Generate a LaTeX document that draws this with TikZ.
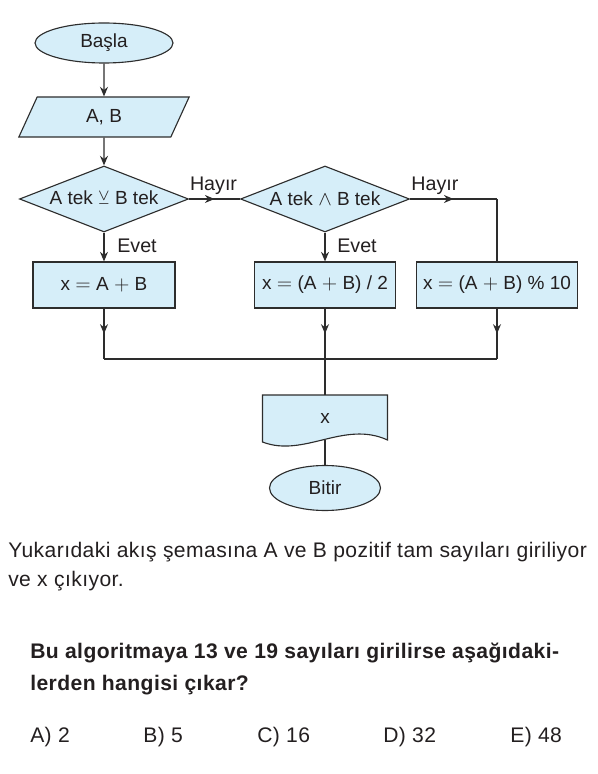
\documentclass[tikz,border=0pt]{standalone}
\usepackage{amssymb}
\usepackage{fontspec}
\setmainfont{Liberation Sans}
\newfontfamily\questfont[LetterSpace=2.0]{Liberation Sans}
\usetikzlibrary{shapes.geometric,arrows.meta,decorations.markings}
\definecolor{flowfill}{RGB}{214,238,249}
\definecolor{flowline}{RGB}{45,45,45}
\definecolor{inktext}{RGB}{35,31,32}

\begin{document}
\begin{tikzpicture}[
  every node/.style={text=inktext},
  flow/.style={draw=flowline,fill=flowfill,line width=0.8pt,font=\fontsize{13.5}{16}\selectfont},
  terminal/.style={flow,ellipse,inner sep=0pt},
  io/.style={flow,trapezium,trapezium left angle=76,trapezium right angle=104,trapezium stretches=true,minimum width=4.275cm,minimum height=1.000cm},
  decision/.style={flow,diamond,aspect=2.6,inner sep=0pt,minimum width=4.225cm,minimum height=1.650cm},
  process/.style={flow,rectangle,minimum height=1.150cm},
  link/.style={draw=flowline,line width=0.8pt},
  arrowline/.style={link,-{Stealth[length=2.4mm,width=2.0mm]}},
  midtip/.style={link,decoration={markings,mark=at position 0.5 with {\arrow{Stealth[length=2.4mm,width=2.0mm]}}},postaction={decorate}},
  branch/.style={font=\fontsize{14}{17}\selectfont,inner sep=0pt},
  question/.style={anchor=base west,inner sep=0pt,font=\questfont\fontsize{15}{18}\selectfont}
]
\useasboundingbox (0.000,0.000) rectangle (14.925,-19.350);

% flowchart
\node[terminal,minimum width=3.450cm,minimum height=1.000cm] (start) at (2.600,-1.075) {Başla};
\node[io] (input) at (2.600,-2.925) {A, B};
\node[decision] (xor) at (2.600,-4.975) {A tek $\veebar$ B tek};
\node[decision] (and) at (8.125,-4.975) {A tek $\wedge$ B tek};
\node[process,minimum width=3.550cm] (sum) at (2.600,-7.125) {x $=$ A $+$ B};
\node[process,minimum width=3.525cm] (half) at (8.125,-7.125) {x $=$ (A $+$ B) / 2};
\node[process,minimum width=4.025cm] (mod) at (12.425,-7.125) {x $=$ (A $+$ B) \% 10};
\coordinate (turn) at (12.425,-4.975);
\coordinate (j1) at (2.600,-8.975);
\coordinate (j2) at (8.125,-8.975);
\coordinate (j3) at (12.425,-8.975);

% output document
\draw[link,fill=flowfill] (6.563,-11.050) -- (6.563,-9.875) -- (9.688,-9.875) -- (9.688,-11.000)
  .. controls (8.600,-10.500) and (7.600,-11.450) .. (6.563,-11.050) -- cycle;
\node[branch,font=\fontsize{13.5}{16}\selectfont] (out) at (8.125,-10.450) {x};
\coordinate (outtop) at (8.125,-9.875);
\coordinate (outbot) at (8.125,-10.990);
\node[terminal,minimum width=2.775cm,minimum height=1.125cm] (stop) at (8.125,-12.200) {Bitir};

\draw[arrowline] (start) -- (input);
\draw[arrowline] (input) -- (xor);
\draw[arrowline] (xor) -- (sum);
\draw[arrowline] (and) -- (half);
\draw[midtip] (xor.east) -- (and.west);
\draw[midtip] (and.east) -- (turn);
\draw[link] (turn) -- (mod.north);
\draw[midtip] (sum.south) -- (j1);
\draw[midtip] (half.south) -- (j2);
\draw[midtip] (mod.south) -- (j3);
\draw[link] (j1) -- (j3);
\draw[link] (j2) -- (outtop);
\draw[link] (outbot) -- (stop.north);

\node[branch] (no1) at (5.338,-4.650) {Hayır};
\node[branch] (no2) at (10.875,-4.650) {Hayır};
\node[branch,anchor=west] (yes1) at (2.925,-6.150) {Evet};
\node[branch,anchor=west] (yes2) at (8.425,-6.150) {Evet};

% question text
\node[question] (q1) at (0.200,-13.925) {Yukarıdaki akış şemasına A ve B pozitif tam sayıları giriliyor};
\node[question] (q2) at (0.200,-14.650) {ve x çıkıyor.};
\node[question,font=\questfont\bfseries\fontsize{15}{18}\selectfont] (q3) at (0.750,-16.450) {Bu algoritmaya 13 ve 19 sayıları girilirse aşağıdaki-};
\node[question,font=\questfont\bfseries\fontsize{15}{18}\selectfont] (q4) at (0.750,-17.250) {lerden hangisi çıkar?};
\node[question] (optA) at (0.750,-18.550) {A) 2};
\node[question] (optB) at (3.575,-18.550) {B) 5};
\node[question] (optC) at (6.425,-18.550) {C) 16};
\node[question] (optD) at (9.575,-18.550) {D) 32};
\node[question] (optE) at (12.750,-18.550) {E) 48};
\end{tikzpicture}
\end{document}
